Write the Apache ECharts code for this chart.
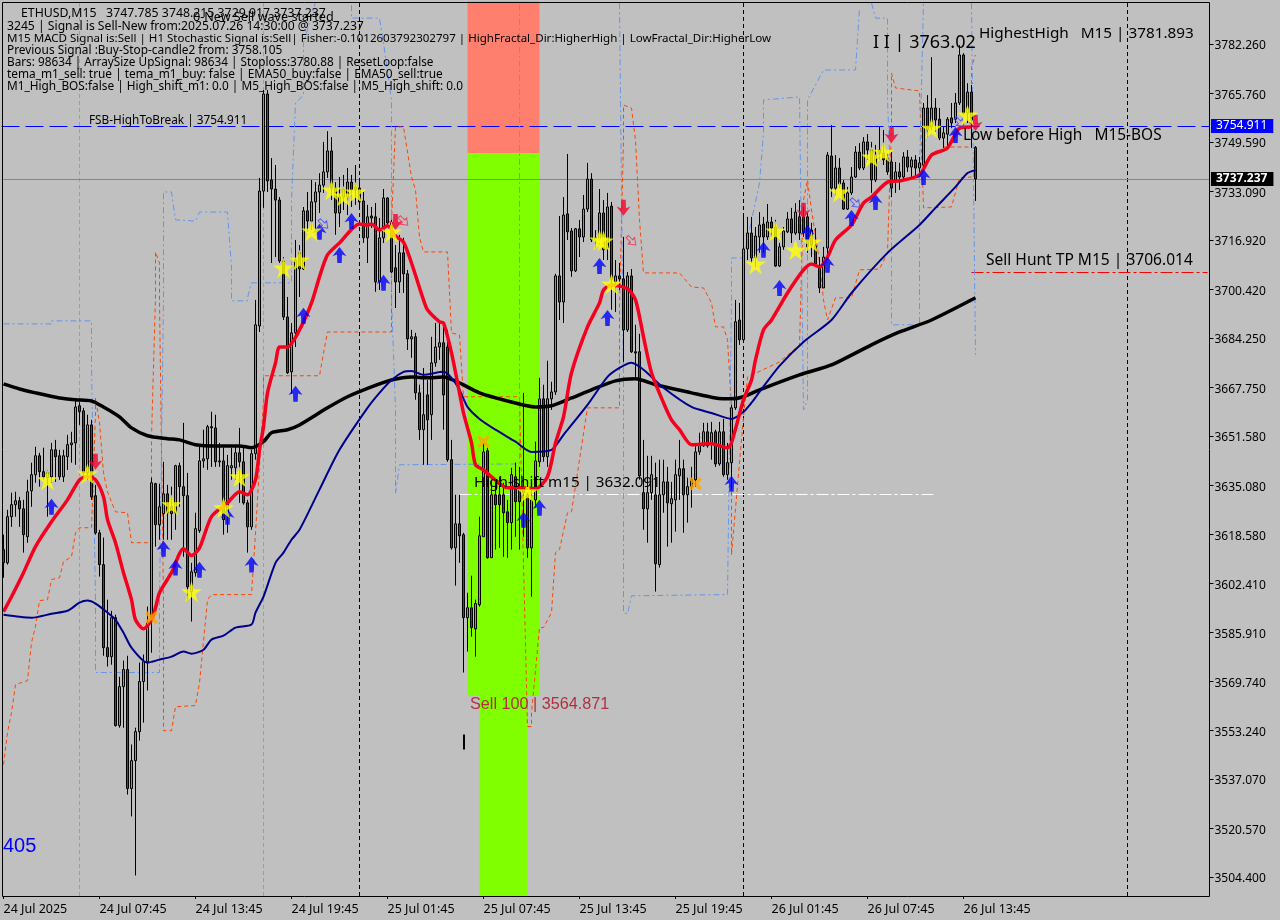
<!DOCTYPE html>
<html><head><meta charset="utf-8">
<style>html,body{margin:0;padding:0;background:#c0c0c0}#c{width:1280px;height:920px}</style>
<script src="https://cdn.jsdelivr.net/npm/echarts@6/dist/echarts.min.js"></script>
</head><body><div id="c"></div>
<script>
const tickPrices=[3782.26,3765.76,3749.59,3733.09,3716.92,3700.42,3684.25,3667.75,3651.58,3635.08,3618.58,3602.41,3585.91,3569.74,3553.24,3537.07,3520.57,3504.40];
const timeLabels=['24 Jul 2025','24 Jul 07:45','24 Jul 13:45','24 Jul 19:45','25 Jul 01:45','25 Jul 07:45','25 Jul 13:45','25 Jul 19:45','26 Jul 01:45','26 Jul 07:45','26 Jul 13:45'];
const opens=[3613.6,3609.2,3624.6,3628.6,3629.9,3627.2,3617.9,3633.2,3638.6,3644.9,
3639.6,3637.6,3637.9,3646.9,3644.9,3637.9,3644.6,3648.6,3649.2,3661.6,
3659.9,3639.2,3655.2,3631.6,3619.2,3608.6,3580.9,3577.9,3590.9,3554.9,
3567.9,3573.6,3533.9,3543.2,3552.9,3569.6,3576.2,3591.2,3635.6,3621.9,
3625.6,3632.2,3627.9,3625.9,3641.6,3634.6,3631.6,3599.6,3605.9,3619.9,
3643.2,3643.9,3654.6,3654.2,3643.2,3643.2,3625.9,3640.9,3640.9,3645.9,
3642.9,3629.2,3621.2,3645.6,3688.2,3733.2,3765.6,3736.9,3733.9,3730.2,
3709.9,3691.2,3672.9,3685.9,3712.6,3707.2,3726.6,3723.2,3729.6,3732.9,
3735.2,3739.6,3746.6,3734.2,3725.9,3731.2,3731.2,3736.2,3734.6,3734.2,
3729.9,3717.6,3724.9,3724.6,3702.9,3717.6,3730.9,3722.6,3707.6,3702.9,
3712.6,3705.6,3683.9,3684.6,3665.9,3653.6,3665.2,3658.6,3675.9,3681.2,
3682.6,3681.2,3643.6,3614.2,3622.2,3618.6,3590.9,3594.2,3587.2,3595.2,
3617.9,3646.6,3610.9,3631.9,3631.9,3631.9,3626.2,3622.6,3637.9,3634.6,
3634.2,3631.9,3614.2,3630.2,3642.9,3663.9,3644.6,3663.9,3666.2,3704.9,
3696.2,3725.6,3719.9,3706.6,3720.6,3717.9,3727.2,3737.2,3717.6,3716.9,
3725.9,3714.2,3728.2,3702.9,3704.9,3703.9,3686.9,3704.9,3679.6,3679.6,
3632.6,3627.2,3632.6,3631.9,3608.6,3631.9,3636.2,3628.9,3630.2,3638.2,
3640.6,3631.9,3634.6,3636.9,3646.2,3648.2,3652.9,3648.6,3652.9,3642.2,
3652.9,3638.6,3642.6,3660.9,3690.2,3683.6,3713.9,3719.2,3710.9,3717.9,
3722.2,3717.9,3722.9,3721.2,3708.2,3714.6,3719.6,3723.9,3719.2,3724.6,
3724.6,3724.6,3720.2,3714.9,3707.9,3700.9,3714.2,3744.9,3734.2,3740.9,
3735.9,3727.2,3732.6,3737.9,3746.2,3740.9,3749.6,3746.9,3736.9,3746.9,
3745.9,3744.2,3742.9,3736.9,3739.6,3737.9,3744.6,3741.2,3743.6,3740.9,
3741.9,3760.9,3754.6,3760.9,3757.2,3750.9,3752.2,3757.6,3757.2,3762.6,
3778.6,3759.2,3766.2,3747.785];
const closes=[3609.2,3624.6,3628.6,3629.9,3627.2,3618.6,3632.9,3638.6,3644.9,3639.6,
3637.9,3639.2,3646.9,3644.6,3637.9,3644.9,3648.6,3649.2,3661.2,3659.6,
3639.2,3655.2,3631.2,3619.2,3608.6,3580.9,3577.9,3590.9,3554.9,3567.9,
3573.6,3533.9,3543.2,3552.9,3569.6,3576.2,3589.2,3635.9,3621.9,3627.9,
3632.2,3625.9,3625.6,3641.6,3634.6,3631.6,3601.2,3606.2,3620.6,3643.2,
3643.9,3654.6,3654.2,3642.9,3642.9,3623.6,3641.6,3641.6,3645.9,3642.9,
3629.2,3621.2,3645.6,3688.6,3733.2,3765.6,3736.6,3733.9,3730.2,3709.9,
3691.2,3672.6,3685.9,3710.2,3707.2,3726.6,3723.2,3729.6,3732.9,3735.2,
3739.6,3746.6,3734.2,3725.9,3731.2,3733.6,3736.2,3733.6,3733.6,3729.6,
3717.6,3724.6,3724.2,3702.9,3717.6,3730.9,3722.6,3706.2,3702.9,3712.6,
3705.6,3683.9,3684.6,3665.9,3653.6,3658.6,3656.9,3675.9,3681.2,3682.6,
3665.2,3643.6,3614.2,3622.2,3618.2,3590.9,3594.2,3587.6,3595.6,3618.2,
3646.2,3610.9,3631.9,3628.6,3628.6,3625.9,3622.6,3638.6,3629.6,3629.6,
3632.6,3614.2,3630.2,3643.2,3663.9,3644.6,3663.9,3666.2,3704.9,3696.2,
3725.2,3719.6,3706.6,3720.6,3717.9,3727.2,3737.2,3716.9,3716.9,3725.9,
3713.6,3727.9,3703.6,3704.9,3703.9,3686.9,3704.9,3679.6,3679.2,3638.2,
3627.2,3632.6,3638.6,3608.9,3631.9,3636.2,3629.2,3630.6,3638.6,3640.6,
3631.9,3634.6,3636.9,3646.2,3648.6,3652.9,3648.2,3652.6,3642.2,3652.9,
3638.6,3642.6,3660.9,3689.6,3683.6,3713.9,3719.2,3710.9,3718.2,3721.9,
3717.9,3722.9,3720.9,3708.2,3714.6,3719.9,3723.9,3719.2,3726.2,3719.2,
3719.2,3714.6,3715.2,3708.9,3700.9,3711.2,3745.2,3734.2,3740.9,3735.6,
3727.2,3732.6,3737.9,3746.2,3740.9,3749.6,3746.9,3736.9,3745.2,3745.9,
3743.6,3739.6,3734.2,3739.6,3737.9,3744.6,3741.2,3743.6,3740.9,3742.6,
3760.9,3753.6,3760.9,3756.9,3750.9,3752.6,3757.2,3755.9,3762.6,3778.6,
3759.2,3766.2,3756.9,3737.237];
const highs=[3618.6,3626.9,3632.6,3632.9,3631.2,3630.2,3636.9,3642.6,3647.9,3645.9,
3647.6,3640.2,3649.2,3650.2,3646.9,3646.9,3651.9,3652.9,3663.6,3662.9,
3660.9,3658.6,3656.9,3635.2,3620.2,3617.6,3596.9,3593.2,3591.9,3571.2,
3576.6,3578.2,3548.6,3554.2,3575.9,3578.6,3594.6,3637.6,3635.9,3635.6,
3642.9,3635.2,3634.6,3641.9,3642.6,3655.9,3639.2,3609.2,3625.9,3647.9,
3653.6,3655.2,3659.6,3658.6,3649.2,3647.6,3645.2,3647.6,3647.9,3654.2,
3647.9,3630.2,3646.9,3696.9,3737.6,3766.9,3766.9,3744.2,3741.9,3731.2,
3711.2,3697.9,3689.2,3716.9,3715.2,3727.9,3732.9,3736.9,3736.2,3739.2,
3749.6,3753.2,3751.2,3736.2,3737.9,3738.6,3740.9,3738.6,3741.9,3737.6,
3732.9,3728.6,3727.9,3729.2,3724.2,3733.9,3731.2,3723.6,3715.2,3718.6,
3717.6,3706.9,3686.9,3685.9,3668.6,3674.2,3670.2,3684.6,3689.2,3689.6,
3689.6,3686.9,3650.2,3631.9,3631.9,3619.2,3599.2,3604.9,3596.9,3624.6,
3649.2,3647.6,3636.9,3636.9,3637.9,3635.9,3630.2,3640.9,3642.6,3641.2,
3665.9,3632.6,3636.9,3649.6,3670.9,3668.6,3676.6,3669.6,3705.6,3724.9,
3731.2,3745.6,3720.9,3720.9,3723.6,3731.9,3742.6,3739.2,3720.2,3733.9,
3730.2,3732.6,3729.6,3710.2,3709.2,3717.9,3706.2,3707.2,3688.6,3685.6,
3650.2,3644.9,3644.9,3642.6,3643.6,3643.6,3641.2,3636.2,3643.6,3650.2,
3643.6,3637.6,3641.2,3648.2,3652.6,3655.9,3655.9,3656.2,3653.6,3656.2,
3657.2,3649.2,3661.9,3696.9,3695.9,3724.6,3724.6,3724.6,3721.2,3726.2,
3724.6,3728.9,3724.6,3723.6,3715.9,3721.2,3726.2,3727.6,3729.2,3730.2,
3727.9,3725.9,3722.6,3720.9,3711.2,3714.6,3746.2,3755.2,3745.2,3744.2,
3736.9,3734.6,3741.2,3748.2,3749.2,3751.2,3752.2,3749.6,3748.6,3754.6,
3753.6,3745.9,3746.2,3742.9,3742.6,3746.2,3746.9,3744.6,3745.2,3744.6,
3762.6,3765.2,3777.9,3764.2,3760.9,3754.6,3757.9,3762.6,3765.9,3781.893,
3779.2,3769.2,3768.6,3748.215];
const lows=[3604.2,3608.6,3621.2,3624.6,3621.2,3612.6,3615.9,3627.9,3635.9,3634.6,
3636.9,3624.6,3635.9,3636.2,3636.9,3636.2,3640.2,3642.6,3641.9,3655.2,
3636.9,3636.9,3630.2,3618.6,3604.6,3578.2,3574.6,3575.2,3554.6,3554.2,
3554.2,3531.9,3524.6,3504.9,3549.9,3555.9,3566.6,3579.2,3614.6,3616.9,
3616.9,3616.9,3616.9,3620.2,3627.9,3611.2,3596.9,3589.6,3604.6,3619.2,
3640.9,3640.2,3641.2,3641.2,3641.2,3618.6,3619.2,3636.9,3636.9,3629.2,
3628.6,3612.6,3620.2,3643.6,3686.2,3727.6,3732.9,3709.2,3711.2,3709.2,
3690.2,3672.2,3665.6,3681.2,3697.9,3706.9,3719.6,3720.2,3720.2,3725.9,
3732.6,3737.6,3730.2,3718.6,3721.2,3726.9,3725.2,3727.9,3728.6,3726.9,
3715.9,3709.2,3720.9,3699.6,3700.2,3715.9,3721.2,3705.9,3694.2,3699.2,
3699.2,3680.2,3677.6,3663.6,3650.2,3641.9,3641.9,3650.2,3674.6,3676.9,
3653.6,3642.9,3613.6,3601.6,3609.2,3572.6,3579.6,3584.6,3577.9,3594.6,
3617.9,3610.6,3610.9,3613.6,3614.2,3611.2,3610.9,3613.6,3617.9,3613.6,
3617.9,3610.9,3597.9,3627.6,3641.2,3642.9,3641.2,3660.2,3665.2,3690.2,
3689.2,3716.9,3704.6,3706.2,3711.2,3716.2,3726.2,3716.2,3714.2,3715.2,
3710.2,3710.2,3693.6,3692.9,3700.2,3676.2,3686.2,3679.2,3671.2,3636.9,
3620.2,3615.9,3630.2,3599.6,3607.6,3625.9,3614.6,3615.9,3619.6,3630.2,
3619.2,3622.6,3627.6,3634.6,3645.2,3647.9,3647.6,3643.6,3641.2,3641.6,
3637.9,3636.9,3633.6,3660.2,3681.9,3682.9,3710.2,3709.2,3707.9,3712.6,
3712.6,3716.9,3717.9,3707.9,3707.9,3713.6,3719.2,3715.9,3718.6,3716.9,
3717.9,3712.6,3711.2,3707.9,3699.2,3700.9,3711.2,3731.2,3731.9,3734.2,
3726.9,3726.9,3731.9,3737.6,3740.2,3740.2,3743.6,3732.6,3736.2,3743.6,
3741.9,3738.6,3731.2,3732.6,3733.6,3736.9,3739.6,3737.9,3737.9,3737.9,
3741.2,3751.2,3753.6,3752.9,3750.2,3747.6,3747.9,3754.2,3755.9,3761.9,
3758.6,3755.9,3747.6,3729.917];

const redX=[0,2,5,8,12,16,19,21,23,25,26,28,30,32,33,35,37,38,39,42,45,47,49,52,56,59,61,63,64,65,66,68,69,71,74,77,79,81,84,89,91,92,94,96,98,100,102,105,106,109,110,112,114,115,117,118,120,122,126,129,133,136,138,140,142,146,149,150,152,156,158,160,162,165,167,169,172,177,181,182,185,187,188,190,192,196,200,202,204,206,208,212,215,217,221,224,229,232,236,239,242];
const redY=[3592.9,3597.9,3605.9,3614.6,3622.9,3630.2,3636.9,3637.9,3636.9,3631.2,3623.6,3615.9,3605.9,3596.9,3590.2,3587.2,3590.2,3594.2,3599.2,3605.9,3613.9,3611.6,3614.2,3624.6,3629.2,3632.9,3631.9,3636.9,3646.9,3654.6,3665.9,3675.9,3681.2,3681.2,3686.9,3695.9,3704.6,3711.9,3715.9,3722.2,3721.9,3722.2,3720.2,3721.6,3718.2,3716.2,3709.2,3696.9,3693.6,3689.6,3689.2,3679.2,3665.9,3659.2,3649.2,3641.9,3640.2,3637.9,3634.2,3634.2,3633.9,3637.9,3649.2,3657.9,3672.6,3687.9,3695.9,3700.2,3701.9,3700.6,3696.9,3684.6,3672.6,3662.6,3656.9,3653.6,3648.6,3648.9,3647.6,3649.2,3663.6,3670.2,3676.9,3686.9,3690.2,3699.2,3706.9,3708.9,3707.9,3711.2,3716.9,3721.9,3729.2,3731.2,3736.2,3736.6,3738.6,3745.2,3747.6,3754.2,3754.6];
const navyX=[0,4,7,12,16,19,21,23,26,28,30,32,36,39,42,45,47,50,52,55,58,62,63,65,68,70,72,74,79,84,91,94,97,100,102,105,110,112,114,116,119,123,128,132,137,140,146,151,154,157,160,165,172,177,182,185,187,189,194,200,207,212,221,229,233,238,241,243];
const navyY=[3591.9,3591.2,3590.9,3592.2,3593.2,3595.9,3596.6,3595.6,3592.6,3590.2,3585.9,3580.9,3575.9,3576.9,3577.9,3579.6,3578.9,3580.2,3583.6,3584.9,3587.6,3588.6,3592.6,3597.9,3609.2,3612.6,3616.9,3620.2,3633.6,3646.9,3660.9,3665.9,3670.2,3672.9,3673.2,3671.9,3672.9,3670.9,3666.9,3661.2,3657.2,3653.6,3649.6,3646.2,3646.9,3651.9,3661.9,3671.2,3674.2,3675.9,3673.6,3667.6,3661.2,3659.2,3657.2,3659.6,3662.6,3666.2,3674.9,3682.9,3690.2,3699.2,3712.6,3721.9,3727.6,3734.6,3739.2,3740.2];
const blackX=[0,4,8,14,18,22,25,29,32,36,41,44,48,53,59,62,65,67,71,74,81,86,92,97,102,106,110,114,119,126,133,137,142,147,153,158,163,172,178,182,185,189,199,207,217,224,232,243];
const blackY=[3668.9,3667.2,3665.9,3664.2,3663.6,3663.2,3661.2,3657.9,3654.2,3651.6,3650.6,3650.2,3648.6,3648.2,3648.2,3647.6,3649.6,3652.6,3653.6,3655.2,3660.9,3664.6,3667.9,3670.2,3671.2,3670.9,3671.2,3669.2,3665.9,3663.2,3661.2,3661.6,3664.2,3666.9,3669.9,3670.6,3668.6,3665.9,3664.2,3663.9,3664.6,3666.9,3671.9,3675.2,3681.9,3686.2,3690.2,3697.6];
const bandLowX=[0,1,2,3,6,7,8,9,11,12,14,15,17,18,19,22,23,23,24,25,26,28,31,32,37,37,38,38,39,39,40,40,42,43,48,49,51,52,62,63,65,65,79,80,81,97,97,98,100,102,103,104,105,111,112,114,115,129,130,131,132,132,134,135,137,138,139,141,142,144,146,154,154,155,155,157,158,159,160,169,172,175,177,178,180,181,182,182,185,186,194,199,200,201,202,204,205,206,208,212,214,219,221,222,222,223,229,230,237,239,242,null,235,242,242,243];
const bandLowY=[3541.9,3552.6,3559.2,3568.6,3569.9,3582.6,3587.9,3596.6,3596.9,3603.6,3604.2,3609.6,3611.2,3619.2,3620.9,3620.9,3659.2,3664.2,3655.9,3639.2,3632.9,3626.2,3625.9,3615.9,3615.9,3651.2,3697.9,3712.9,3709.2,3696.9,3596.9,3553.2,3553.2,3561.2,3561.6,3569.2,3596.9,3598.6,3598.6,3619.2,3663.6,3671.6,3671.6,3679.2,3686.2,3686.2,3722.6,3754.6,3754.6,3737.9,3733.6,3717.9,3712.9,3712.9,3685.9,3685.2,3664.6,3664.6,3609.2,3554.6,3554.6,3559.2,3587.6,3587.6,3592.6,3612.6,3613.6,3625.9,3626.2,3643.6,3660.9,3660.9,3694.6,3750.2,3761.9,3760.9,3750.2,3723.6,3705.9,3705.9,3701.2,3700.9,3695.9,3687.9,3687.9,3683.6,3661.2,3611.9,3657.9,3671.2,3676.2,3681.9,3730.2,3736.9,3726.9,3709.6,3696.9,3690.2,3697.6,3697.6,3706.9,3707.2,3712.6,3754.6,3772.6,3767.6,3766.6,3727.6,3727.9,3737.6,3737.9,null,3747.9,3747.9,3774.6,3778.6];
const bandHighX=[0,12,12,22,22,23,23,23,39,39,40,40,40,42,43,48,49,56,57,57,61,61,62,72,72,73,75,75,78,null,87,87,94,95,97,97,98,98,99,129,129,129,null,154,155,155,156,157,181,182,182,185,189,190,190,199,200,201,201,205,213,214,null,217,218,221,221,222,222,229,229,230,null,242,243];
const bandHighY=[3688.9,3688.9,3689.9,3689.9,3675.2,3597.9,3595.9,3572.6,3572.6,3596.9,3696.9,3711.2,3732.9,3732.9,3723.6,3723.2,3726.2,3726.2,3707.9,3696.6,3696.6,3697.6,3702.6,3702.6,3730.2,3762.6,3765.2,3782.6,3796.2,null,3795.2,3790.9,3790.9,3782.6,3763.6,3696.9,3660.9,3632.2,3641.9,3642.2,3670.2,3795.9,null,3795.9,3670.2,3592.6,3592.2,3598.2,3598.6,3696.9,3710.9,3710.9,3735.9,3752.6,3763.6,3764.6,3660.2,3663.6,3763.6,3773.6,3773.6,3794.2,null,3795.9,3790.9,3790.9,3763.6,3730.2,3688.6,3688.6,3740.2,3796.2,null,3795.9,3678.6];

const starX=[11,21,42,47,55,59,70,74,77,82,85,88,97,131,149,150,152,188,193,198,202,209,217,220,232,241];
const starY=[3636.9,3638.9,3628.6,3599.6,3627.6,3637.9,3707.6,3710.2,3719.9,3733.6,3731.6,3732.9,3719.6,3632.9,3716.9,3716.6,3702.2,3708.9,3719.9,3713.6,3716.2,3732.9,3744.6,3746.2,3754.2,3758.6];
const upX=[12,40,43,49,56,62,73,75,79,84,87,95,130,134,149,151,182,190,194,201,206,212,218,230,238];
const upY=[3627.9,3613.9,3607.6,3606.9,3624.6,3608.6,3665.6,3691.6,3719.6,3711.9,3723.2,3702.6,3623.6,3627.6,3708.2,3690.9,3635.6,3713.6,3700.9,3719.2,3708.6,3724.2,3729.6,3737.9,3751.9];
const downX=[23,98,155,200,222,243];
const downY=[3642.9,3722.9,3727.6,3726.6,3751.9,3755.9];
const hollowUpX=[80,213,239];
const hollowUpY=[3722.2,3729.2,3756.2];
const hollowDownX=[100,157];
const hollowDownY=[3723.2,3716.6];
const crossX=[37,120,173];
const crossY=[3590.9,3649.6,3635.6];

const fsbHigh=3754.911, lastPrice=3737.237, sellTp=3706.014, highShift=3632.091, highestHigh=3781.893, sell100=3564.871;
const pinkLines=[19,65], blackLines=[89,185,281];

const FONT='"Noto Sans"';
const totalBars=302, axisMin=3498.06, axisMax=3796.44;
const categories=Array.from({length:totalBars},(_,i)=>(i%24===0&&timeLabels[i/24])||'');
const pts=(xs,ys)=>xs.map((x,i)=>[x,ys[i]]);
const line=(name,xs,ys,w,color,type,z,smooth)=>({name,type:'line',data:pts(xs,ys),showSymbol:false,symbol:'none',z,silent:true,animation:false,smooth:smooth||false,
  lineStyle:{width:w,color,type:type||'solid',cap:'butt',join:'round'}});
const marks=(name,xs,ys,symbol,size,style,rot,z)=>({name,type:'scatter',data:pts(xs,ys),symbol,symbolSize:size,symbolRotate:rot||0,itemStyle:style,z:z||6,silent:true,animation:false});
const starPath='path://M50,0 L61,35 L98,35 L68,57 L79,91 L50,70 L21,91 L32,57 L2,35 L39,35 Z';
const arrowPath='path://M50,0 L100,58 L68,48 L66,100 L34,100 L32,48 L0,58 Z';
const hollowPath='path://M50,0 L100,50 L68,50 L68,100 L32,100 L32,50 L0,50 Z';
const crossPath='path://M18,0 L50,30 L82,0 L100,18 L70,50 L100,82 L82,100 L50,70 L18,100 L0,82 L30,50 L0,18 Z';
const vLine=(x,color)=>({xAxis:x,lineStyle:{color,type:[4,3],width:1}});
const txt=(t,x,y,size,color,font)=>({type:'text',x,y:y+1.5,silent:true,z:100,style:{text:t,fill:color||'#000',font:(size)+'px '+(font||FONT),textVerticalAlign:'middle',textBaseline:'middle'}});

const chart=echarts.init(document.getElementById('c'),null,{renderer:'canvas'});
chart.setOption({
 animation:false,backgroundColor:'#c0c0c0',
 grid:{left:1.5,right:70.5,top:1.5,bottom:24,show:false},
 xAxis:{type:'category',data:categories,boundaryGap:true,
  axisLine:{show:false},splitLine:{show:false},
  axisTick:{show:true,alignWithLabel:true,length:3,interval:(i,v)=>v!=='',lineStyle:{color:'#000'}},
  axisLabel:{interval:0,align:'left',color:'#000',fontFamily:FONT,fontSize:12.5,margin:7,hideOverlap:false}},
 yAxis:{type:'value',position:'right',min:axisMin,max:axisMax,scale:true,splitLine:{show:false},
  axisLine:{show:false},
  axisTick:{show:true,length:4,customValues:tickPrices,lineStyle:{color:'#000'}},
  axisLabel:{color:'#000',fontFamily:FONT,fontSize:12,margin:5,verticalAlign:'top',lineHeight:4,customValues:tickPrices,formatter:v=>v.toFixed(3)}},
 series:[
  {name:'zones',type:'line',data:[],z:1,silent:true,
   markArea:{silent:true,z:1,data:[
    [{xAxis:116,yAxis:axisMax,itemStyle:{color:'#ff7f6e',opacity:1}},{xAxis:134,yAxis:3745.9}],
    [{xAxis:116,yAxis:3745.9,itemStyle:{color:'#7fff00',opacity:1}},{xAxis:134,yAxis:sell100}],
    [{xAxis:119,yAxis:sell100,itemStyle:{color:'#7fff00',opacity:1}},{xAxis:131,yAxis:axisMin}]]}},
  {name:'levels',type:'line',data:[],z:2,silent:true,
   markLine:{silent:true,symbol:'none',animation:false,z:2,label:{show:false},data:[
     ...pinkLines.map(x=>vLine(x,'#ff69b4')),
     ...blackLines.map(x=>vLine(x,'#000')),
     {yAxis:lastPrice,lineStyle:{color:'#778899',type:'solid',width:1},
      label:{show:true,position:'end',distance:1.5,formatter:'3737.237',color:'#fff',backgroundColor:'#000',fontFamily:FONT,fontSize:12,padding:[1,6,1,5],fontWeight:'bold'}},
     {yAxis:fsbHigh,lineStyle:{color:'#0000ff',type:[18,6],width:1},
      label:{show:true,position:'end',distance:1.5,formatter:'3754.911',color:'#fff',backgroundColor:'#0000ff',fontFamily:FONT,fontSize:12,padding:[1,6,1,5]}},
     [{xAxis:242,yAxis:sellTp,lineStyle:{color:'#ff0000',type:[12,3,3,3],width:1}},{xAxis:301,yAxis:sellTp}],
     [{xAxis:114,yAxis:highShift,lineStyle:{color:'#ffffff',type:[12,3,3,3],width:1}},{xAxis:233,yAxis:highShift}],
     [{xAxis:239,yAxis:highestHigh,lineStyle:{color:'#a8e040',type:'solid',width:1}},{xAxis:243,yAxis:highestHigh}],
     [{xAxis:115,yAxis:3551.9,lineStyle:{color:'#000',type:'solid',width:2}},{xAxis:115,yAxis:3546.9}]
   ]}},
  line('band low',bandLowX,bandLowY,1,'#ff4500',[4,3],3),
  line('band high',bandHighX,bandHighY,1,'#6495ed',[6,3,2,3],3),
  {name:'ETHUSD',type:'candlestick',z:4,silent:true,barWidth:3,animation:false,large:false,progressive:0,
   data:opens.map((o,i)=>[o,closes[i],lows[i],highs[i]]),
   itemStyle:{color:'#20d080',color0:'#b8143c',borderColor:'#000',borderColor0:'#000',borderWidth:1}},
  line('EMA slow',blackX,blackY,3.5,'#000',null,5,0.25),
  line('EMA mid',navyX,navyY,2,'#00008b',null,5,0.25),
  line('TEMA',redX,redY,3.5,'#f5001e',null,5,0.25),
  marks('stars',starX,starY,starPath,[21,21],{color:'#ffff00'},0,7),
  marks('up',upX,upY,arrowPath,[14,16],{color:'#0000ff'},0,6),
  marks('down',downX,downY,arrowPath,[14,16],{color:'#f5002d'},180,6),
  marks('hollow up',hollowUpX,hollowUpY,hollowPath,[9,12],{color:'rgba(0,0,0,0)',borderColor:'#4040ff',borderWidth:1},-135,6),
  marks('hollow down',hollowDownX,hollowDownY,hollowPath,[9,12],{color:'rgba(0,0,0,0)',borderColor:'#ff2040',borderWidth:1},-135,6),
  marks('cross',crossX,crossY,crossPath,[13,13],{color:'#ffa500'},0,8)
 ],
 graphic:[
  {type:'rect',silent:true,z:50,shape:{x:2.5,y:2.5,width:1207,height:894},style:{fill:'transparent',stroke:'#000',lineWidth:1}},
  txt('ETHUSD,M15   3747.785 3748.215 3729.917 3737.237',21,12,12.3),
  txt('0-New Sell wave started',193,16,12.6),
  txt('3245 | Signal is Sell-New from:2025.07.26 14:30:00 @ 3737.237',7,25,12.17),
  txt('M15 MACD Signal is:Sell | H1 Stochastic Signal is:Sell| Fisher:-0.1012603792302797 | HighFractal_Dir:HigherHigh | LowFractal_Dir:HigherLow',7,37,11.55),
  txt('Previous Signal :Buy-Stop-candle2 from: 3758.105',7,49,11.87),
  txt('Bars: 98634 | ArraySize UpSignal: 98634 | Stoploss:3780.88 | ResetLoop:false',7,61,11.78),
  txt('tema_m1_sell: true | tema_m1_buy: false | EMA50_buy:false | EMA50_sell:true',7,73,11.86),
  txt('M1_High_BOS:false | High_shift_m1: 0.0 | M5_High_BOS:false | M5_High_shift: 0.0',7,85,11.84),
  txt('FSB-HighToBreak | 3754.911',89,119,11.8),
  txt('I I | 3763.02',873,41,18),
  txt('HighestHigh   M15 | 3781.893',979,32,15.3),
  txt('Low before High   M15-BOS',963,134,15.45),
  txt('Sell Hunt TP M15 | 3706.014',986,259,15.55),
  txt('High-shift m15 | 3632.091',474,481,15.2),
  txt('Sell 100 | 3564.871',470,703,16.2,'#b03040','"Liberation Sans"'),
  txt('405',3,844.5,20,'#0000ff','"Liberation Sans"')
 ]
});
</script></body></html>
